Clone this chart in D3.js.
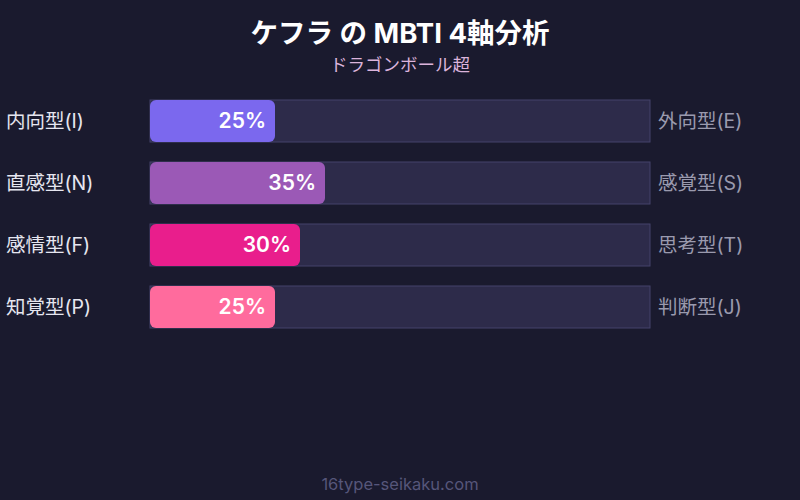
<!DOCTYPE html>
<html>
<head>
  <meta charset="utf-8">
  <style>
    body { margin: 0; background: #1a1a2e; }
    text { font-family: Inter, "Noto Sans CJK JP", sans-serif; }
  </style>
</head>
<body>
  <script src="https://cdn.jsdelivr.net/npm/d3@7"></script>
  <script>
    // chart data
    const leftLabels = ["内向型(I)", "直感型(N)", "感情型(F)", "知覚型(P)"];
    const rightLabels = ["外向型(E)", "感覚型(S)", "思考型(T)", "判断型(J)"];
    const percents = [25, 35, 30, 25];
    const barColors = ["#7b68ee", "#9b59b6", "#e91e8c", "#ff6b9d"];

    const width = 800;
    const height = 500;

    const svg = d3.select("body")
      .append("svg")
      .attr("width", width)
      .attr("height", height);

    svg.append("rect")
      .attr("width", width)
      .attr("height", height)
      .attr("fill", "#1a1a2e");

    // title
    svg.append("text")
      .attr("x", width / 2)
      .attr("y", 43)
      .attr("text-anchor", "middle")
      .attr("fill", "#ffffff")
      .attr("font-size", 27.5)
      .attr("font-weight", "bold")
      .text("ケフラ の MBTI 4軸分析");

    svg.append("text")
      .attr("x", width / 2)
      .attr("y", 71)
      .attr("text-anchor", "middle")
      .attr("fill", "#dcb4dc")
      .attr("font-size", 17.5)
      .text("ドラゴンボール超");

    const x = d3.scaleLinear().domain([0, 100]).range([150, 650]);
    // 42px bars on a 62px step
    const y = d3.scaleBand()
      .domain(d3.range(percents.length))
      .range([100, 100 + 62 * percents.length - 20])
      .paddingInner(20 / 62)
      .paddingOuter(0);

    const rows = svg.selectAll("g.row")
      .data(percents)
      .join("g")
      .attr("class", "row");

    // track
    rows.append("rect")
      .attr("x", x(0))
      .attr("y", (d, i) => y(i))
      .attr("width", x(100) - x(0))
      .attr("height", y.bandwidth())
      .attr("fill", "#2d2b4a")
      .attr("stroke", "#45436a")
      .attr("stroke-width", 1);

    // fill
    rows.append("rect")
      .attr("x", x(0))
      .attr("y", (d, i) => y(i))
      .attr("width", d => x(d) - x(0))
      .attr("height", y.bandwidth())
      .attr("rx", 6)
      .attr("fill", (d, i) => barColors[i]);

    rows.append("text")
      .attr("x", d => x(d) - 9)
      .attr("y", (d, i) => y(i) + y.bandwidth() / 2)
      .attr("dy", "0.35em")
      .attr("text-anchor", "end")
      .attr("fill", "#ffffff")
      .attr("font-size", 21)
      .attr("font-weight", 600)
      .text(d => d + "%");

    rows.append("text")
      .attr("x", 6)
      .attr("y", (d, i) => y(i) + y.bandwidth() / 2)
      .attr("dy", "0.35em")
      .attr("fill", "#e6e6f0")
      .attr("font-size", 19.5)
      .text((d, i) => leftLabels[i]);

    rows.append("text")
      .attr("x", 658)
      .attr("y", (d, i) => y(i) + y.bandwidth() / 2)
      .attr("dy", "0.35em")
      .attr("fill", "#9a9aae")
      .attr("font-size", 19.5)
      .text((d, i) => rightLabels[i]);

    // footer
    svg.append("text")
      .attr("x", width / 2)
      .attr("y", 490)
      .attr("text-anchor", "middle")
      .attr("fill", "#56567a")
      .attr("font-size", 16.5)
      .text("16type-seikaku.com");
  </script>
</body>
</html>
